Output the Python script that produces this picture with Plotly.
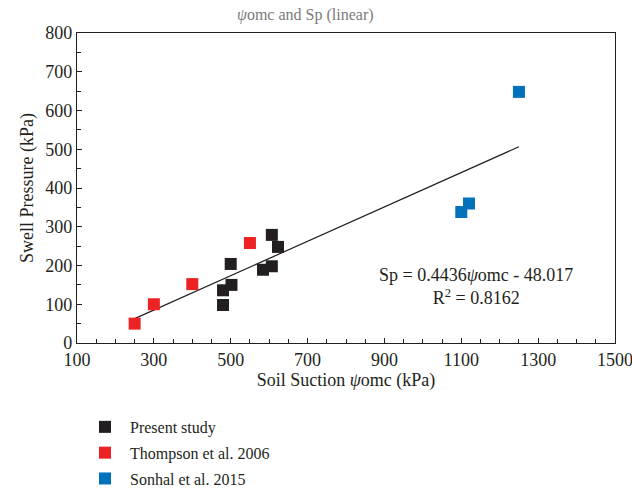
import plotly.graph_objects as go

# Data
present_x = [480, 480, 502, 500, 584, 607, 607, 623]
present_y = [98, 136, 150, 204, 189, 198, 279, 248]
thompson_x = [250, 300, 400, 550]
thompson_y = [50, 100, 152, 258]
sonhal_x = [1250, 1120, 1100]
sonhal_y = [648, 360, 338]
slope = 0.4436
intercept = -48.017
r2 = 0.8162

x_ticks = [100, 300, 500, 700, 900, 1100, 1300, 1500]
y_ticks = [0, 100, 200, 300, 400, 500, 600, 700, 800]

FONT = "Liberation Serif"
all_x = present_x + thompson_x + sonhal_x
fit_x = [min(all_x), max(all_x)]
fit_y = [slope * v + intercept for v in fit_x]

fig = go.Figure()
fig.add_trace(go.Scatter(x=fit_x, y=fit_y, mode="lines", line=dict(color="#231f20", width=1.2),
                         showlegend=False, hoverinfo="skip"))
fig.add_trace(go.Scatter(x=present_x, y=present_y, mode="markers", name="Present study", legendgroup="a",
                         marker=dict(symbol="square", size=12, color="#231f20")))
fig.add_trace(go.Scatter(x=thompson_x, y=thompson_y, mode="markers", name="Thompson et al. 2006", legendgroup="b",
                         marker=dict(symbol="square", size=12, color="#ed2224")))
fig.add_trace(go.Scatter(x=sonhal_x, y=sonhal_y, mode="markers", name="Sonhal et al. 2015", legendgroup="c",
                         marker=dict(symbol="square", size=12, color="#0072bc")))

fig.add_annotation(x=1137, y=147, xref="x", yref="y",
                   text="Sp = 0.4436<i>ψ</i>omc - 48.017<br>R<sup>2</sup> = " + str(r2),
                   showarrow=False, font=dict(family=FONT, size=18, color="#231f20"), align="center")

axis_common = dict(showline=True, linecolor="#231f20", linewidth=1.2, mirror=True, automargin=False,
                   ticks="inside", ticklen=5, tickcolor="#231f20", showgrid=False, zeroline=False,
                   ticklabeloverflow="allow",
                   tickfont=dict(family=FONT, size=18, color="#231f20"))

fig.update_layout(
    width=632, height=488,
    margin=dict(l=77, r=17, t=33, b=145, autoexpand=False),
    paper_bgcolor="white", plot_bgcolor="white",
    title=dict(text="<i>ψ</i>omc and Sp (linear)", x=0.483, xanchor="center", y=0.971, yanchor="middle",
               font=dict(family=FONT, size=16, color="#7a7a7a"), automargin=False),
    xaxis=dict(range=[100, 1500], tickvals=x_ticks,
               minor=dict(dtick=50, tick0=100, ticks="inside", ticklen=4, tickcolor="#231f20"),
               title=dict(text="Soil Suction <i>ψ</i>omc (kPa)", font=dict(family=FONT, size=18, color="#231f20"),
                          standoff=4),
               **axis_common),
    yaxis=dict(range=[0, 800], tickvals=y_ticks,
               minor=dict(dtick=50, tick0=0, ticks="inside", ticklen=4, tickcolor="#231f20"),
               title=dict(text="Swell Pressure (kPa)", font=dict(family=FONT, size=18, color="#231f20"),
                          standoff=6),
               **axis_common),
    legend=dict(x=0.0056, y=-0.216, xanchor="left", yanchor="top", tracegroupgap=2, itemwidth=40,
                font=dict(family=FONT, size=16, color="#231f20"), itemsizing="constant",
                bgcolor="rgba(0,0,0,0)"),
    showlegend=True,
)

fig.write_html("out.html", config={"displayModeBar": False},
               post_script="document.body.style.margin='0px';")
